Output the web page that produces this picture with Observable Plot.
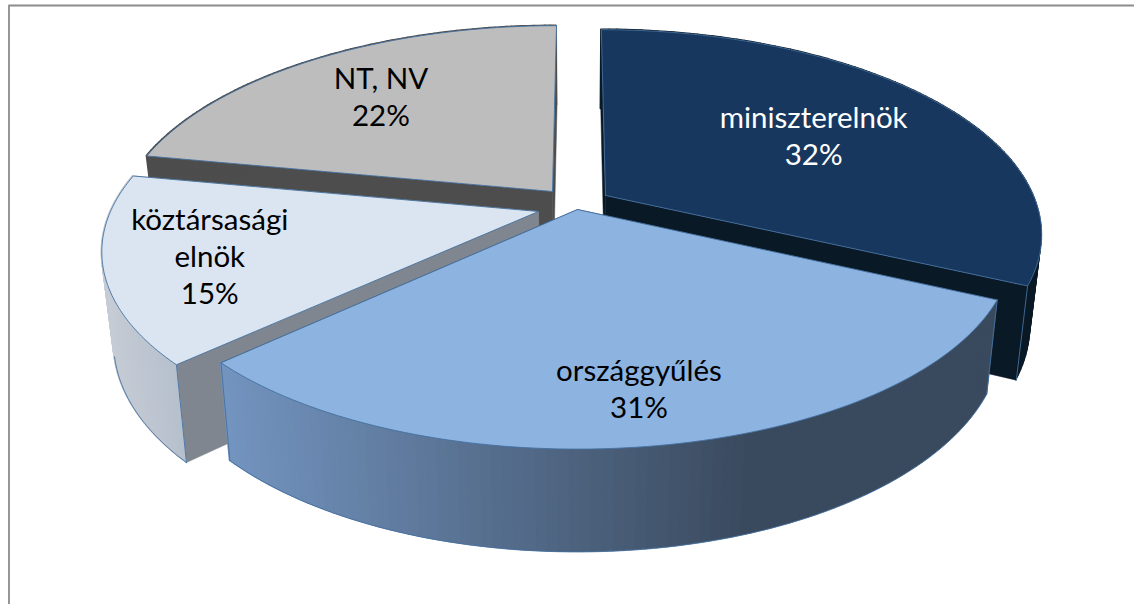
<!DOCTYPE html>
<html><head><meta charset="utf-8">
<script src="https://cdn.jsdelivr.net/npm/d3@7"></script>
<script src="https://cdn.jsdelivr.net/npm/@observablehq/plot@0.6"></script>
<style>html,body{margin:0;padding:0;background:#fff}svg{display:block}</style>
</head><body><div id="chart"></div>
<script>
// Data
const categories = ["miniszterelnök", "országgyűlés", "köztársasági\nelnök", "NT, NV"];
const shares = [32, 31, 15, 22];
const topColors = ["#17375E", "#8DB3E1", "#DBE5F1", "#BDBDBD"];
const wallColors = ["#0A1926", "#3A4A5E", "#7F868F", "#4D4D4D"];
const rimFrom = ["#0A1926", "#7394C0", "#C6CCD5", "#4D4D4D"];
const rimTo = ["#0A1926", "#3A4A5E", "#B6C0CD", "#4D4D4D"];

// Projection of the exploded, tilted disc
const W = 1134, H = 604;
const apexX = [605, 577, 538, 552], apexY = [195, 209, 211, 191];
const labelRadius = [0.615, 0.79, 0.765, 0.7];
const VX = 578, RX = 428, RY = 196, K = 0.182, F = 0.975, DROP = 89;
const proj = (i, a, r, low) => {
  const u = r * Math.sin(a), v = -r * Math.cos(a), s = 1 / (1 - K * v), f = low ? F : 1;
  return [VX + ((apexX[i] - VX) + RX * u) * s * f, apexY[i] + RY * v * s * f + (low ? DROP * s : 0)];
};
const total = d3.sum(shares);
const angle = d => d / total * 2 * Math.PI;
const edges = d3.cumsum([0, ...shares]).map(angle);
const STEPS = 90, EDGE = "#44719F";
const drawOrder = [3, 0, 2, 1];
const marks = [];

marks.push(Plot.line([[W, 5], [8.5, 5], [8.5, H]], {stroke: "#8C8C8C", strokeWidth: 1.8}));

for (const i of drawOrder) {
  const a0 = edges[i], a1 = edges[i + 1];
  const arc = d3.range(STEPS + 1).map(k => a0 + (a1 - a0) * k / STEPS);
  // Cut walls from the apex to each end of the arc
  for (const a of [a0, a1]) {
    marks.push(Plot.line(
      [proj(i, a, 0, false), proj(i, a, 1, false), proj(i, a, 1, true), proj(i, a, 0, true), proj(i, a, 0, false)],
      {fill: wallColors[i], stroke: wallColors[i], strokeWidth: 0.5}));
  }
  // Outer rim: narrow bands shaded across the slice
  const xs = arc.map(a => proj(i, a, 1, false)[0]);
  const [xa, xb] = d3.extent(xs);
  const shade = d3.interpolateRgb(rimFrom[i], rimTo[i]);
  const span = i === 1 ? 0.68 : 1;
  const bands = arc.slice(1).flatMap((a, k) => {
    const mid = (xs[k] + xs[k + 1]) / 2;
    const fill = shade(Math.min(1, (mid - xa) / (xb - xa) / span));
    return [arc[k], a].map(t => {
      const p = proj(i, t, 1, false), q = proj(i, t, 1, true);
      return {x1: p[0], y1: p[1], x2: q[0], y2: q[1], band: k, fill};
    });
  });
  marks.push(Plot.area(bands, {x1: "x1", y1: "y1", x2: "x2", y2: "y2", z: "band", fill: "fill", stroke: "fill", strokeWidth: 1.4}));
  if (i !== 0) marks.push(Plot.line(arc.filter(a => -Math.cos(a) > 0.25).map(a => proj(i, a, 1, true)), {stroke: EDGE, strokeWidth: 0.9}));
  // Vertical edges at the near ends of the arc
  for (const a of [a0, a1]) {
    if (-Math.cos(a) > 0.1) marks.push(Plot.line([proj(i, a, 1, false), proj(i, a, 1, true)], {stroke: EDGE, strokeWidth: 0.9}));
  }
  // Top face
  marks.push(Plot.line(
    [proj(i, a0, 0, false), ...arc.map(a => proj(i, a, 1, false)), proj(i, a0, 0, false)],
    {fill: topColors[i], stroke: EDGE, strokeWidth: 0.9}));
}

// Labels at the middle of each slice's top face
const labels = categories.map((c, i) => {
  const p = proj(i, (edges[i] + edges[i + 1]) / 2, labelRadius[i], false);
  return {x: p[0], y: p[1], text: `${c}\n${shares[i]}%`, color: i === 0 ? "#FFFFFF" : "#000000"};
});
marks.push(Plot.text(labels, {x: "x", y: "y", text: "text", fill: "color", fontSize: 29.5, lineHeight: 1.27,
  fontFamily: "Lato", textAnchor: "middle", lineAnchor: "middle", fontWeight: 400}));

const chart = Plot.plot({
  width: W, height: H, margin: 0,
  x: {domain: [0, W], range: [0, W], axis: null},
  y: {domain: [0, H], range: [0, H], axis: null},
  color: {type: "identity"},
  style: {background: "#fff"},
  marks
});
document.getElementById("chart").append(chart);
</script></body></html>
